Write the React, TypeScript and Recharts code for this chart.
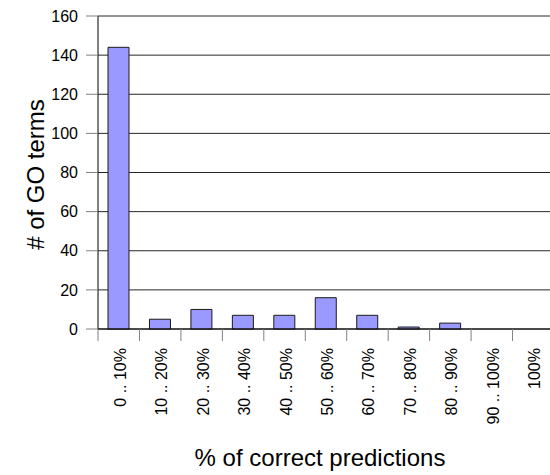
import { BarChart, Bar, XAxis, YAxis, CartesianGrid, Label } from "recharts";

const categories = [
  "0 .. 10%",
  "10 .. 20%",
  "20 .. 30%",
  "30 .. 40%",
  "40 .. 50%",
  "50 .. 60%",
  "60 .. 70%",
  "70 .. 80%",
  "80 .. 90%",
  "90 .. 100%",
  "100%",
];
const goTermCounts = [144, 5, 10, 7, 7, 16, 7, 1, 3, 0, 0];
const yTicks = [0, 20, 40, 60, 80, 100, 120, 140, 160];

const data = categories.map((name, i) => ({ name, count: goTermCounts[i] }));

const FONT = "'Liberation Sans', Arial, Helvetica, sans-serif";

// tick marks sit on the band boundaries, labels run bottom-to-top
function CategoryTick(props: any) {
  const { x, y, payload } = props;
  const off = payload?.offset ?? 0;
  const axisY = y - 8;
  return (
    <g>
      <line x1={x - off} x2={x - off} y1={axisY} y2={axisY + 12} stroke="#808080" />
      <text
        transform={`translate(${x + 7},${axisY + 19}) rotate(-90)`}
        textAnchor="end"
        fontSize={16}
        fill="#000"
        fontFamily={FONT}
      >
        {payload.value}
      </text>
    </g>
  );
}

function XTitle(props: any) {
  const vb = props.viewBox;
  return (
    <text
      x={vb.x + vb.width / 2 - 6}
      y={vb.y + 137}
      textAnchor="middle"
      fontSize={24}
      fill="#000"
      fontFamily={FONT}
    >
      % of correct predictions
    </text>
  );
}

function YTitle(props: any) {
  const vb = props.viewBox;
  const cx = 44;
  const cy = vb.y + vb.height / 2 + 2;
  return (
    <text
      x={cx}
      y={cy}
      transform={`rotate(-90 ${cx} ${cy})`}
      textAnchor="middle"
      fontSize={24}
      fill="#000"
      fontFamily={FONT}
    >
      # of GO terms
    </text>
  );
}

export default function App() {
  return (
    <div
      style={{
        position: "absolute",
        left: 0,
        top: 0,
        width: 550,
        height: 475,
        overflow: "hidden",
        background: "#fff",
        fontFamily: FONT,
      }}
    >
      <BarChart
        width={556}
        height={475}
        data={data}
        margin={{ top: 16, right: 2, left: 0, bottom: 0 }}
      >
        <CartesianGrid vertical={false} stroke="#000" strokeOpacity={0.85} />
        <XAxis
          dataKey="name"
          height={146}
          interval={0}
          tickLine={false}
          axisLine={{ stroke: "#000" }}
          tick={<CategoryTick />}
        >
          <Label content={<XTitle />} />
        </XAxis>
        <YAxis
          width={98}
          domain={[0, 160]}
          ticks={yTicks}
          interval={0}
          tickSize={12}
          tickMargin={8}
          tickLine={{ stroke: "#808080" }}
          axisLine={{ stroke: "#000" }}
          tick={{ fontSize: 16, fill: "#000", fontFamily: FONT }}
        >
          <Label content={<YTitle />} />
        </YAxis>
        <Bar
          dataKey="count"
          barSize={21}
          fill="#9999ff"
          stroke="#1a1a1a"
          strokeWidth={1}
          isAnimationActive={false}
        />
      </BarChart>
    </div>
  );
}
